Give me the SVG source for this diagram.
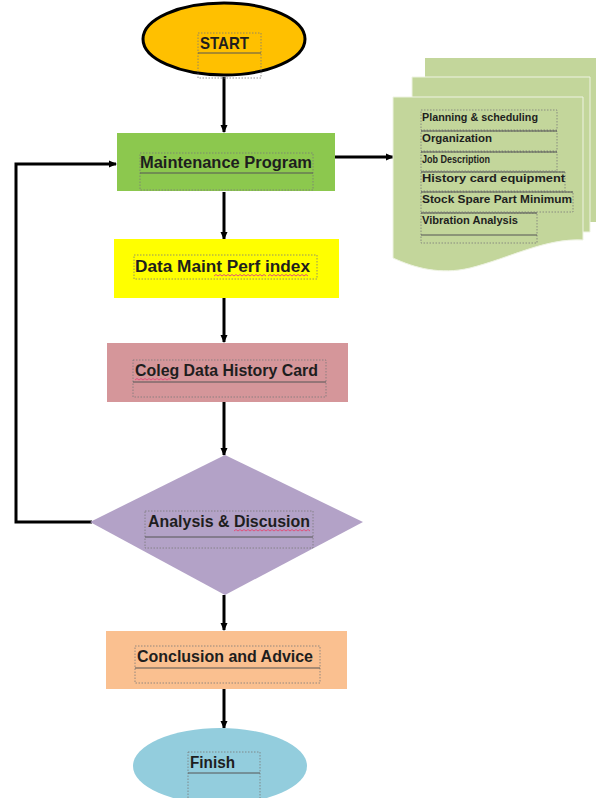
<svg xmlns="http://www.w3.org/2000/svg" width="596" height="798" viewBox="0 0 596 798">
<defs>
<marker id="ah" markerWidth="8" markerHeight="8" refX="7" refY="4" orient="auto" markerUnits="userSpaceOnUse">
<path d="M0,0.5 L8,4 L0,7.5 Z" fill="#000"/>
</marker>
</defs>
<style>
.lbl{font-family:"Liberation Sans",Arial,sans-serif;font-weight:bold;fill:#1e1e1e}
.big{font-size:16px}
.sm{font-size:10.5px}
.tb{fill:none;stroke:#7a7a7a;stroke-width:0.8;stroke-dasharray:1.5,1.5}
.ln{fill:none;stroke:#555;stroke-width:1}
.conn{fill:none;stroke:#000;stroke-width:3}
.sq{fill:none;stroke:#e0507a;stroke-width:1}
</style>
<rect width="596" height="798" fill="#fff"/>

<g id="connectors">
<line class="conn" x1="224" y1="77" x2="224" y2="132" marker-end="url(#ah)"/>
<line class="conn" x1="335" y1="157" x2="393" y2="157" marker-end="url(#ah)"/>
<line class="conn" x1="224" y1="192" x2="224" y2="239" marker-end="url(#ah)"/>
<line class="conn" x1="224" y1="298" x2="224" y2="342" marker-end="url(#ah)"/>
<line class="conn" x1="224" y1="402" x2="224" y2="455" marker-end="url(#ah)"/>
<line class="conn" x1="224" y1="595" x2="224" y2="630" marker-end="url(#ah)"/>
<line class="conn" x1="224" y1="689" x2="224" y2="728" marker-end="url(#ah)"/>
<path class="conn" d="M92,522 H16 V164 H116" marker-end="url(#ah)"/>
</g>

<g id="start">
<ellipse cx="224" cy="39" rx="81" ry="36" fill="#FFC000" stroke="#000" stroke-width="3"/>
<rect class="tb" x="198" y="33" width="63" height="45"/>
<line class="ln" x1="198" y1="53" x2="261" y2="53"/>
<text class="lbl" x="200" y="49" font-size="17" textLength="49" lengthAdjust="spacingAndGlyphs">START</text>
</g>

<g id="maintenance">
<rect x="117" y="133" width="218" height="58" fill="#8CC84E"/>
<rect class="tb" x="140" y="153" width="173" height="37"/>
<line class="ln" x1="140" y1="173" x2="313" y2="173"/>
<text class="lbl big" x="140" y="168" textLength="172" lengthAdjust="spacingAndGlyphs">Maintenance Program</text>
</g>

<g id="doc">
<path d="M425,58 H596 V222 L425,222 Z" fill="#C3D69B"/>
<path d="M412,77 H590 V232 L412,232 Z" fill="#C3D69B" stroke="#eef3e2" stroke-width="1"/>
<path d="M393,97 H583 V240 C545,238 510,258 470,268 C440,275 415,268 393,258 Z" fill="#C3D69B" stroke="#eef3e2" stroke-width="1"/>
<rect class="tb" x="421" y="110" width="136" height="20"/>
<text class="lbl sm" x="422" y="121" textLength="116" lengthAdjust="spacingAndGlyphs">Planning &amp; scheduling</text>
<rect class="tb" x="421" y="131" width="136" height="20"/>
<line class="ln" x1="421" y1="131" x2="557" y2="131"/>
<text class="lbl sm" x="422" y="142" textLength="70" lengthAdjust="spacingAndGlyphs">Organization</text>
<rect class="tb" x="421" y="152" width="136" height="19"/>
<line class="ln" x1="421" y1="152" x2="557" y2="152"/>
<text class="lbl sm" x="422" y="163" textLength="68" lengthAdjust="spacingAndGlyphs">Job Description</text>
<rect class="tb" x="421" y="172" width="144" height="19"/>
<line class="ln" x1="421" y1="172" x2="565" y2="172"/>
<text class="lbl sm" x="422" y="182" textLength="143" lengthAdjust="spacingAndGlyphs">History card equipment</text>
<rect class="tb" x="421" y="192" width="152" height="20"/>
<line class="ln" x1="421" y1="192" x2="573" y2="192"/>
<text class="lbl sm" x="422" y="203" textLength="150" lengthAdjust="spacingAndGlyphs">Stock Spare Part Minimum</text>
<rect class="tb" x="421" y="213" width="116" height="30"/>
<line class="ln" x1="421" y1="213" x2="537" y2="213"/>
<line class="ln" x1="421" y1="235" x2="537" y2="235"/>
<text class="lbl sm" x="422" y="224" textLength="96" lengthAdjust="spacingAndGlyphs">Vibration Analysis</text>
</g>

<g id="data-maint">
<rect x="114" y="239" width="225" height="59" fill="#FFFF00"/>
<rect class="tb" x="134" y="255" width="183" height="24"/>
<text class="lbl big" x="135" y="272" textLength="175" lengthAdjust="spacingAndGlyphs">Data Maint Perf  index</text>
<path class="sq" d="M214,276 l2,-1.5 l2,1.5 l2,-1.5 l2,1.5 l2,-1.5 l2,1.5 l2,-1.5 l2,1.5 l2,-1.5 l2,1.5 l2,-1.5 l2,1.5 l2,-1.5 l2,1.5 l2,-1.5 l2,1.5 l2,-1.5 l2,1.5 l2,-1.5 l2,1.5 l2,-1.5 l2,1.5 l2,-1.5 l2,1.5 l2,-1.5 l2,1.5" stroke="#e08a20"/>
<path class="sq" d="M268,276 l2,-1.5 l2,1.5 l2,-1.5 l2,1.5 l2,-1.5 l2,1.5 l2,-1.5 l2,1.5 l2,-1.5 l2,1.5 l2,-1.5 l2,1.5 l2,-1.5 l2,1.5 l2,-1.5 l2,1.5 l2,-1.5 l2,1.5 l2,-1.5 l2,1.5" stroke="#3aa040"/>
</g>

<g id="coleg">
<rect x="107" y="343" width="241" height="59" fill="#D5969A"/>
<rect class="tb" x="133" y="360" width="193" height="37"/>
<line class="ln" x1="133" y1="382" x2="326" y2="382"/>
<text class="lbl big" x="135" y="376" textLength="183" lengthAdjust="spacingAndGlyphs">Coleg Data History Card</text>
<path class="sq" d="M135,380 l2,-1.5 l2,1.5 l2,-1.5 l2,1.5 l2,-1.5 l2,1.5 l2,-1.5 l2,1.5 l2,-1.5 l2,1.5 l2,-1.5 l2,1.5 l2,-1.5 l2,1.5 l2,-1.5 l2,1.5 l2,-1.5 l2,1.5" stroke="#d02030"/>
</g>

<g id="analysis">
<path d="M225,455 L363,522 L225,595 L90,522 Z" fill="#B3A2C7"/>
<rect class="tb" x="145" y="511" width="168" height="37"/>
<line class="ln" x1="145" y1="537" x2="313" y2="537"/>
<text class="lbl big" x="148" y="527" textLength="162" lengthAdjust="spacingAndGlyphs">Analysis &amp; Discusion</text>
<path class="sq" d="M234,531 l2,-1.5 l2,1.5 l2,-1.5 l2,1.5 l2,-1.5 l2,1.5 l2,-1.5 l2,1.5 l2,-1.5 l2,1.5 l2,-1.5 l2,1.5 l2,-1.5 l2,1.5 l2,-1.5 l2,1.5 l2,-1.5 l2,1.5 l2,-1.5 l2,1.5 l2,-1.5 l2,1.5 l2,-1.5 l2,1.5 l2,-1.5 l2,1.5 l2,-1.5 l2,1.5 l2,-1.5 l2,1.5 l2,-1.5 l2,1.5 l2,-1.5 l2,1.5 l2,-1.5 l2,1.5 l2,-1.5 l2,1.5"/>
</g>

<g id="conclusion">
<rect x="106" y="631" width="241" height="58" fill="#FAC090"/>
<rect class="tb" x="135" y="646" width="185" height="37"/>
<line class="ln" x1="135" y1="668" x2="320" y2="668"/>
<text class="lbl big" x="137" y="662" textLength="176" lengthAdjust="spacingAndGlyphs">Conclusion and Advice</text>
</g>

<g id="finish">
<ellipse cx="220" cy="766" rx="87" ry="38" fill="#93CDDD"/>
<rect class="tb" x="188" y="752" width="72" height="50"/>
<line class="ln" x1="188" y1="773" x2="260" y2="773"/>
<text class="lbl big" x="190" y="768" textLength="45" lengthAdjust="spacingAndGlyphs">Finish</text>
</g>
</svg>
